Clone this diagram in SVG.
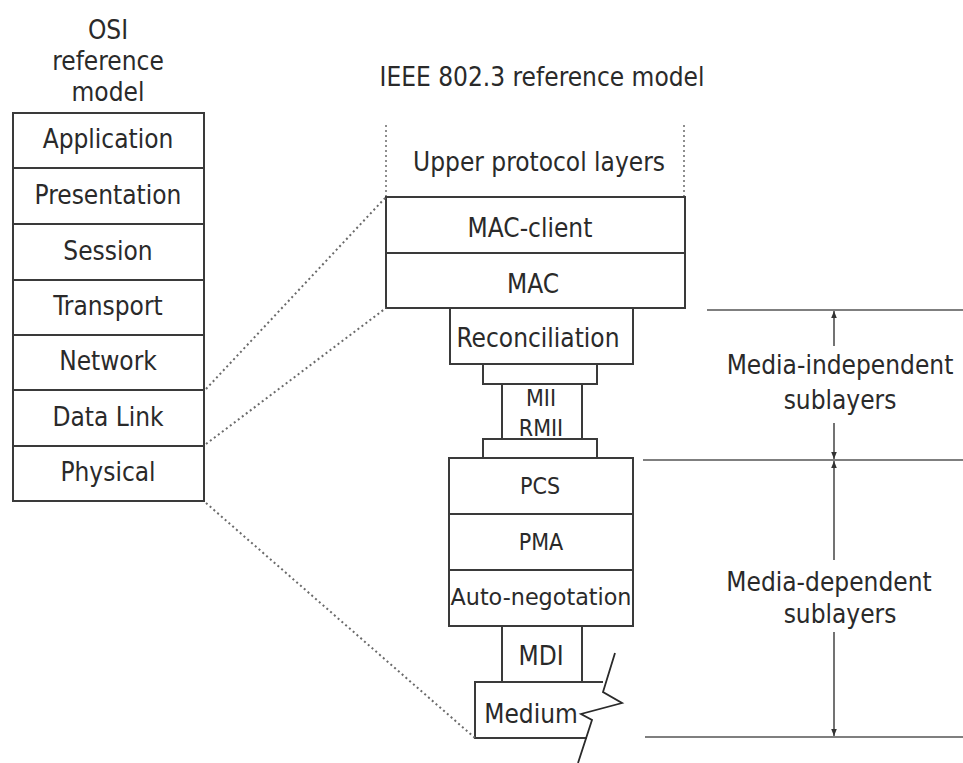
<svg xmlns="http://www.w3.org/2000/svg" width="963" height="763" viewBox="0 0 963 763">
<style>
text{font-family:"DejaVu Sans Condensed","DejaVu Sans","Liberation Sans",sans-serif;fill:#2a2a2a;text-anchor:middle}
.t24{font-size:26px}
.t21{font-size:23px}
.box{fill:#fff;stroke:#3a3a3a;stroke-width:2}
.dot{fill:none;stroke:#6a6a6a;stroke-width:2;stroke-dasharray:2 3}
.hl{fill:none;stroke:#555;stroke-width:1.5}
.ar{fill:none;stroke:#444;stroke-width:1.5}
</style>
<defs>
<marker id="ah" viewBox="0 0 10 10" refX="10" refY="5" markerWidth="7" markerHeight="7" orient="auto-start-reverse" markerUnits="userSpaceOnUse">
<path d="M0,1 L10,5 L0,9 z" fill="#333"/>
</marker>
</defs>
<rect width="963" height="763" fill="#fff"/>

<g id="osi-title">
<text class="t24" x="108" y="39">OSI</text>
<text class="t24" x="108" y="70">reference</text>
<text class="t24" x="108" y="101">model</text>
</g>
<g id="osi-application"><rect class="box" x="13" y="113" width="191" height="55"/><text class="t24" x="108" y="148">Application</text></g>
<g id="osi-presentation"><rect class="box" x="13" y="168" width="191" height="56"/><text class="t24" x="108" y="204">Presentation</text></g>
<g id="osi-session"><rect class="box" x="13" y="224" width="191" height="56"/><text class="t24" x="108" y="260">Session</text></g>
<g id="osi-transport"><rect class="box" x="13" y="280" width="191" height="55"/><text class="t24" x="108" y="315">Transport</text></g>
<g id="osi-network"><rect class="box" x="13" y="335" width="191" height="55"/><text class="t24" x="108" y="370">Network</text></g>
<g id="osi-datalink"><rect class="box" x="13" y="390" width="191" height="56"/><text class="t24" x="108" y="426">Data Link</text></g>
<g id="osi-physical"><rect class="box" x="13" y="446" width="191" height="55"/><text class="t24" x="108" y="481">Physical</text></g>

<g id="ieee-title"><text class="t24" x="542" y="86">IEEE 802.3 reference model</text></g>
<g id="upper-layers">
<line class="dot" x1="386" y1="125" x2="386" y2="197" style="stroke-width:1.5"/>
<line class="dot" x1="684" y1="125" x2="684" y2="197" style="stroke-width:1.5"/>
<text class="t24" x="539" y="171">Upper protocol layers</text>
</g>
<g id="mac-client"><rect class="box" x="386" y="197" width="299" height="56"/><text class="t24" x="530" y="237">MAC-client</text></g>
<g id="mac"><rect class="box" x="386" y="253" width="299" height="55"/><text class="t24" x="533" y="293">MAC</text></g>
<g id="reconciliation"><rect class="box" x="450" y="308" width="183" height="56"/><text class="t24" x="538" y="347">Reconciliation</text></g>
<g id="mii-top"><rect class="box" x="483" y="364" width="114" height="20"/></g>
<g id="mii"><rect class="box" x="502" y="384" width="80" height="55"/><text class="t21" x="541" y="406">MII</text><text class="t21" x="541" y="436">RMII</text></g>
<g id="mii-bottom"><rect class="box" x="483" y="439" width="114" height="19"/></g>
<g id="pcs"><rect class="box" x="449" y="458" width="184" height="56"/><text class="t21" x="540" y="494">PCS</text></g>
<g id="pma"><rect class="box" x="449" y="514" width="184" height="56"/><text class="t21" x="541" y="550">PMA</text></g>
<g id="autoneg"><rect class="box" x="449" y="570" width="184" height="56"/><text class="t21" x="541" y="605" textLength="181" lengthAdjust="spacingAndGlyphs">Auto-negotation</text></g>
<g id="mdi"><rect class="box" x="502" y="626" width="80" height="56"/><text class="t24" x="541" y="665">MDI</text></g>
<g id="medium">
<path class="box" d="M603,682 L475,682 L475,738 L587,738" style="fill:none"/>
<text class="t24" x="531" y="723">Medium</text>
<path d="M615,653 L603,692 L622,703 L581,714 L592,720 L578,763" fill="none" stroke="#2a2a2a" stroke-width="1.8"/>
</g>

<g id="connectors">
<line class="dot" x1="206" y1="389" x2="386" y2="197"/>
<line class="dot" x1="206" y1="444" x2="386" y2="308"/>
<line class="dot" x1="206" y1="503" x2="475" y2="738"/>
<line class="hl" x1="707" y1="310" x2="963" y2="310"/>
<line class="hl" x1="643" y1="460" x2="963" y2="460"/>
<line class="hl" x1="645" y1="737" x2="963" y2="737"/>
<line class="ar" x1="834" y1="346" x2="834" y2="311" marker-end="url(#ah)"/>
<line class="ar" x1="834" y1="423" x2="834" y2="459" marker-end="url(#ah)"/>
<line class="ar" x1="834" y1="560" x2="834" y2="461" marker-end="url(#ah)"/>
<line class="ar" x1="834" y1="632" x2="834" y2="736" marker-end="url(#ah)"/>
</g>
<g id="media-independent">
<text class="t24" x="840" y="374">Media-independent</text>
<text class="t24" x="840" y="409">sublayers</text>
</g>
<g id="media-dependent">
<text class="t24" x="829" y="591">Media-dependent</text>
<text class="t24" x="840" y="623">sublayers</text>
</g>
</svg>
